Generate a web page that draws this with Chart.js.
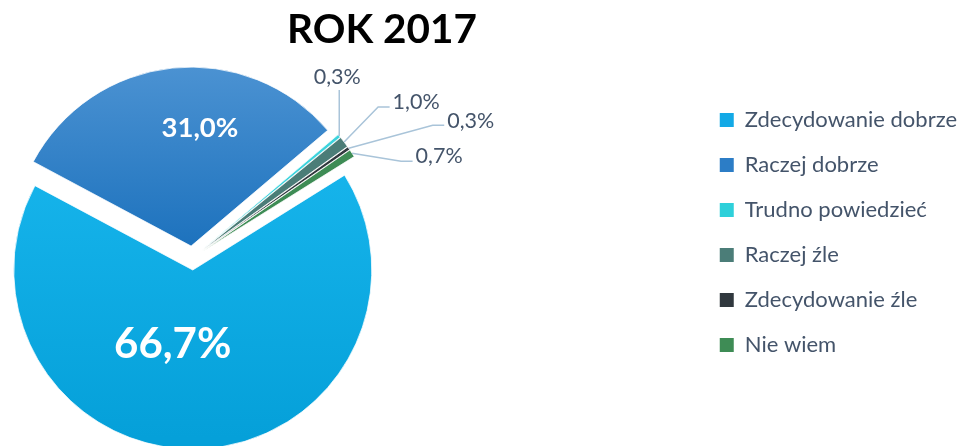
<!DOCTYPE html>
<html>
<head>
<meta charset="utf-8">
<script src="https://cdn.jsdelivr.net/npm/chart.js@4.4.0/dist/chart.umd.min.js"></script>
<style>
  html, body { margin: 0; padding: 0; background: #fff; overflow: hidden; }
  #wrap { position: relative; width: 962px; height: 446px; overflow: hidden; }
  #pieChart { position: absolute; left: -312px; top: 0; }
  #title { position: absolute; left: 0; width: 764px; top: 3px; text-align: center;
           font: bold 40.5px Lato; color: #000; line-height: 50px; }
</style>
</head>
<body>
<div id="wrap">
  <canvas id="pieChart" width="1279" height="446"></canvas>
  <div id="title">ROK 2017</div>
</div>
<script>
// data
const categories = ['Zdecydowanie dobrze', 'Raczej dobrze', 'Trudno powiedzieć', 'Raczej źle', 'Zdecydowanie źle', 'Nie wiem'];
const shares = [66.7, 31.0, 0.3, 1.0, 0.3, 0.7];

// colours
const sliceColors = ['#13A9E6', '#2C7DC6', '#3CD3DD', '#4B7D78', '#30383E', '#3E8C55'];
const legendColors = ['#13A9E6', '#2C7DC6', '#2ED0DA', '#4B7D78', '#30383E', '#3E8C55'];
const textColor = '#44546A';
const leaderColor = '#A9C4D9';

// how far each slice is pulled out from the centre (px)
const explode = [12, 12, 12, 12, 12, 12];

// label placement (inside: [turn in deg, radius fraction, font size]; outside: bend from slice edge)
const insideLabels = { 0: [17.3, 0.423, 42], 1: [10.3, 0.668, 27.5] };
const outsideBends = { 2: [0, -46], 3: [34, -35], 4: [84, -23], 5: [49, 8] };

const pieRadius = 179;

function fmt(v) {
    return v.toFixed(1).replace('.', ',') + '%';
}

// gradient fill for the two big slices
function sliceFill(context) {
    const i = context.dataIndex;
    const chart = context.chart;
    const area = chart.chartArea;
    if (!area || i > 1) return sliceColors[i];
    const cy = (area.top + area.bottom) / 2;
    const r = pieRadius;
    let g;
    if (i === 0) {
        g = chart.ctx.createLinearGradient(0, cy - r * 0.57, 0, cy + r);
        g.addColorStop(0, '#17B5EC');
        g.addColorStop(1, '#05A0D9');
    } else {
        g = chart.ctx.createLinearGradient(0, cy - r - 12, 0, cy);
        g.addColorStop(0, '#4B92D2');
        g.addColorStop(1, '#1A70BC');
    }
    return g;
}

// pull every slice out along its middle angle
const explodePie = {
    id: 'explodePie',
    afterDatasetUpdate(chart, args) {
        args.meta.data.forEach((arc, i) => {
            const mid = (arc.startAngle + arc.endAngle) / 2;
            arc.x += Math.cos(mid) * explode[i];
            arc.y += Math.sin(mid) * explode[i];
        });
    }
};

// draws the percentage labels and leader lines
const pieLabels = {
    id: 'pieLabels',
    afterDatasetsDraw(chart) {
        const ctx = chart.ctx;
        const arcs = chart.getDatasetMeta(0).data;
        arcs.forEach((arc, i) => {
            const p = arc.getProps(['x', 'y', 'startAngle', 'endAngle', 'outerRadius'], true);
            const mid = (p.startAngle + p.endAngle) / 2;
            const r = p.outerRadius;
            const text = fmt(shares[i]);
            ctx.save();
            if (insideLabels[i]) {
                const [turn, frac, size] = insideLabels[i];
                const a = mid + turn * Math.PI / 180;
                const lx = p.x + Math.cos(a) * r * frac;
                const ly = p.y + Math.sin(a) * r * frac;
                ctx.font = 'bold ' + size + 'px Lato';
                ctx.fillStyle = '#FFFFFF';
                ctx.textAlign = 'center';
                ctx.textBaseline = 'alphabetic';
                ctx.fillText(text, lx, ly + size * 0.36);
            } else {
                const ex = p.x + Math.cos(mid) * r;
                const ey = p.y + Math.sin(mid) * r;
                const [dx, dy] = outsideBends[i];
                const bx = ex + dx;
                const by = ey + dy;
                ctx.strokeStyle = leaderColor;
                ctx.lineWidth = 1.5;
                ctx.beginPath();
                ctx.moveTo(ex, ey);
                ctx.lineTo(bx, by);
                const size = 21.5;
                ctx.font = size + 'px Lato';
                ctx.fillStyle = textColor;
                ctx.textBaseline = 'alphabetic';
                if (dx === 0) {
                    ctx.stroke();
                    ctx.textAlign = 'center';
                    ctx.fillText(text, bx - 2, by - 14 + size * 0.36);
                } else {
                    ctx.lineTo(bx + 11.5, by);
                    ctx.stroke();
                    ctx.textAlign = 'left';
                    ctx.fillText(text, bx + 14.5, by - 5.5 + size * 0.36);
                }
            }
            ctx.restore();
        });
    }
};

const ctx = document.getElementById('pieChart').getContext('2d');
const pieChart = new Chart(ctx, {
    type: 'pie',
    data: {
        labels: categories,
        datasets: [{
            data: shares,
            backgroundColor: sliceFill,
            borderColor: '#FFFFFF',
            borderWidth: 0.75,
            rotation: 58,
            radius: pieRadius
        }]
    },
    options: {
        responsive: false,
        animation: false,
        events: [],
        layout: {
            padding: { left: 0, right: 0, top: 86, bottom: 16 }
        },
        plugins: {
            title: { display: false },
            tooltip: { enabled: false },
            legend: {
                position: 'right',
                align: 'start',
                labels: {
                    boxWidth: 14,
                    boxHeight: 14,
                    padding: 23,
                    color: textColor,
                    font: { family: 'Lato', size: 22 },
                    generateLabels(chart) {
                        const items = Chart.overrides.pie.plugins.legend.labels.generateLabels(chart);
                        items.forEach((it, i) => {
                            it.fillStyle = legendColors[i];
                            it.strokeStyle = legendColors[i];
                            it.lineWidth = 0;
                        });
                        return items;
                    }
                }
            }
        }
    },
    plugins: [explodePie, pieLabels]
});
</script>
</body>
</html>
